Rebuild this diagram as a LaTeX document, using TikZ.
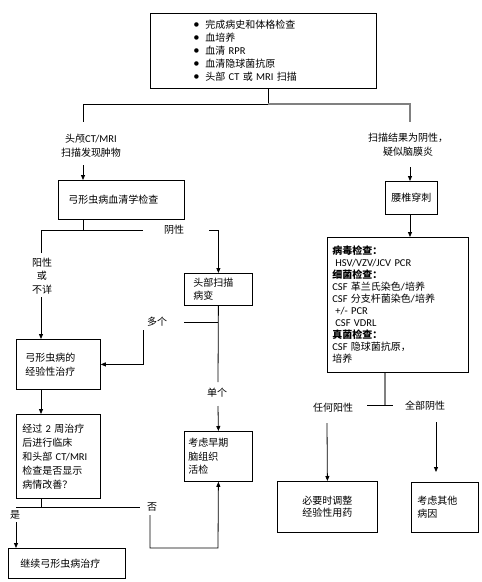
\documentclass[tikz,border=0pt]{standalone}
\usepackage{fontspec}
\setmainfont{Noto Sans CJK SC}
\newfontfamily\lat{Carlito}[Scale=1.05]
\newcommand\en[1]{{\lat #1}}
\newcommand\bul{\makebox[12pt][l]{\lat\large •}}
\usetikzlibrary{arrows.meta}
\definecolor{lgray}{RGB}{128,128,128}
\begin{document}
\begin{tikzpicture}[x=1pt,y=-1pt,
  box/.style={draw, line width=0.8pt, inner ysep=0pt, align=left, anchor=north west, font=\fontsize{10}{14}\selectfont},
  lbl/.style={inner sep=0pt, align=center, font=\fontsize{10}{14}\selectfont},
  ln/.style={line width=0.8pt},
  arr/.style={ln, -{Triangle[length=5pt,width=4pt]}},
  gln/.style={line width=1.6pt, draw=lgray}]
\useasboundingbox (0,0) rectangle (482,582);
% boxes
\node[box, minimum height=75pt, inner xsep=43pt, text width=140pt, font=\fontsize{10}{13}\selectfont] (top) at (150,13)
 {\bul 完成病史和体格检查\\
  \bul 血培养\\
  \bul 血清 \en{RPR}\\
  \bul 血清隐球菌抗原\\
  \bul 头部 \en{CT} 或 \en{MRI} 扫描};
\node[box, minimum height=39pt, inner xsep=10pt, text width=106pt] (sero) at (58,180) {弓形虫病血清学检查};
\node[box, minimum height=32pt, inner xsep=9pt, text width=50pt, font=\fontsize{10}{13}\selectfont] (scan) at (184,273) {头部扫描\\病变};
\node[box, minimum height=50pt, inner xsep=9pt, text width=66pt] (emp) at (16,339) {弓形虫病的\\经验性治疗};
\node[box, minimum height=84pt, inner xsep=6pt, text width=72pt] (q) at (16,414)
 {经过 \en{2} 周治疗\\后进行临床\\和头部 \en{CT/MRI}\\检查是否显示\\病情改善？};
\node[box, minimum height=30pt, inner xsep=12pt, text width=93pt] (cont) at (8,548) {继续弓形虫病治疗};
\node[box, minimum height=50pt, inner xsep=4pt, text width=60pt, font=\fontsize{10}{13.5}\selectfont] (biopsy) at (184,431) {考虑早期\\脑组织\\活检};
\node[box, minimum height=33pt, inner xsep=4pt, text width=44pt, align=center] (lp) at (385,181) {腰椎穿刺};
\node[box, minimum height=135pt, inner xsep=5pt, text width=131pt, font=\fontsize{10}{12}\selectfont] (big) at (327,237)
 {\textbf{病毒检查：}\\
  \hspace*{3pt}\en{HSV/VZV/JCV PCR}\\
  \textbf{细菌检查：}\\
  \en{CSF} 革兰氏染色\en{/}培养\\
  \en{CSF} 分支杆菌染色\en{/}培养\\
  \hspace*{3pt}\en{+/- PCR}\\
  \hspace*{3pt}\en{CSF VDRL}\\
  \textbf{真菌检查：}\\
  \en{CSF} 隐球菌抗原，\\
  培养};
\node[box, minimum height=51pt, inner xsep=5pt, text width=90pt, align=center, font=\fontsize{10}{11.5}\selectfont] (adj) at (277,481) {必要时调整\\经验性用药};
\node[box, minimum height=50pt, inner xsep=6pt, text width=55pt, font=\fontsize{10}{13}\selectfont] (other) at (411,482) {考虑其他\\病因};
% labels
\node[lbl] (l1) at (91,146) {头颅\en{CT/MRI}\\扫描发现肿物};
\node[lbl] (neg) at (174,230) {阴性};
\node[lbl, font=\fontsize{10}{13.5}\selectfont] (pos) at (42,276) {阳性\\或\\不详};
\node[lbl] (multi) at (157,322) {多个};
\node[lbl] (single) at (217,393) {单个};
\node[lbl] (no) at (152,507) {否};
\node[lbl] (yes) at (15,515) {是};
\node[lbl] (men) at (408,145) {扫描结果为阴性，\\疑似脑膜炎};
\node[lbl] (anyp) at (333,408) {任何阳性};
\node[lbl] (alln) at (425,406) {全部阴性};
% coordinates
\coordinate (j1) at (268,104);
\coordinate (a1) at (83,122);
\coordinate (a2) at (83,165);
\coordinate (b1) at (410,122);
\coordinate (b2) at (410,167);
\coordinate (j2) at (83,230);
\coordinate (p1) at (41,253);
\coordinate (p2) at (143,230);
\coordinate (p3) at (209,230);
\coordinate (p5) at (41,297);
\coordinate (s1) at (218,382);
\coordinate (s2) at (218,406);
\coordinate (m1) at (184,322);
\coordinate (m2) at (143,330);
\coordinate (h1) at (16,507);
\coordinate (h2) at (140,507);
\coordinate (n1) at (150,515);
\coordinate (n2) at (218,548);
\coordinate (y1) at (16,522);
\coordinate (r1) at (385,405);
\coordinate (r2) at (367,405);
\coordinate (r3) at (393,405);
\coordinate (r4) at (327,423);
\coordinate (r5) at (436,422);
\coordinate (r6) at (436,472);
% connectors
\draw[ln] (top.south -| j1) -- (j1);
\draw[ln] (j1) -| (a1);
\draw[gln] (j1) -| (b1);
\draw[arr] (a2) -- (sero.north -| a2);
\draw[ln] (sero.south -| j2) -- (j2);
\draw[ln] (p1) |- (p2);
\draw[arr] (p3) -| (scan.north);
\draw[arr] (p5) -- (emp.north -| p5);
\draw[ln] (scan.south) -- (s1);
\draw[arr] (s2) -- (biopsy.north);
\draw[ln] (m1) -- (m1 -| scan.south);
\draw[arr] (m2) |- (emp.east);
\draw[arr] (emp.south -| p5) -- (q.north -| p5);
\draw[ln] (q.south -| p5) -- (p5 |- h1);
\draw[ln] (h1) -- (h2);
\draw[arr] (n1) |- (n2) -- (biopsy.south);
\draw[arr] (y1) -- (cont.north -| y1);
\draw[arr] (b2) -- (lp.north -| b2);
\draw[arr] (lp.south -| b2) -- (big.north -| b2);
\draw[gln] (big.south -| r1) -- (r1);
\draw[ln] (r2) -- (r3);
\draw[arr] (r4) -- (adj.north);
\draw[arr] (r5) -- (r6);
\end{tikzpicture}
\end{document}
